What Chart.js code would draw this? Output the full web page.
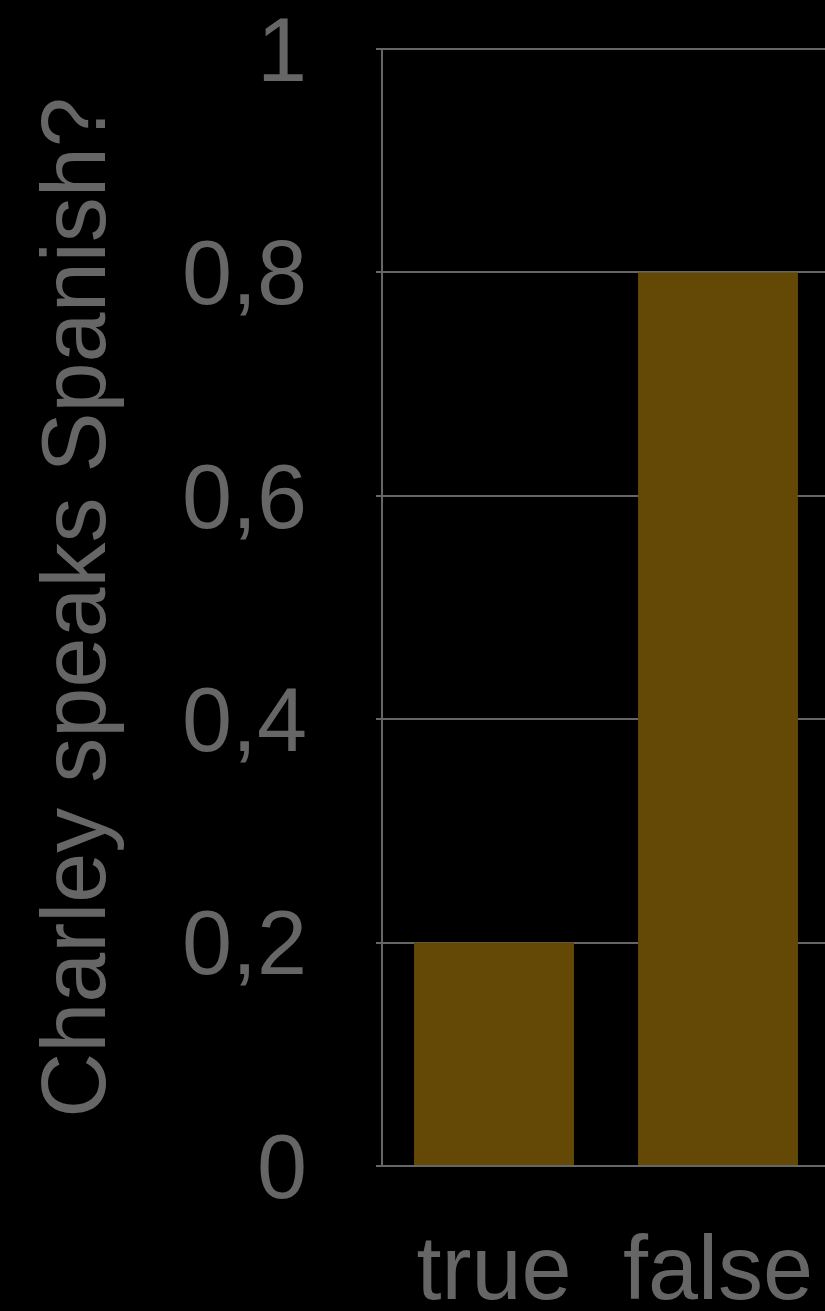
<!DOCTYPE html>
<html>
<head>
<meta charset="utf-8">
<script src="https://cdn.jsdelivr.net/npm/chart.js@4/dist/chart.umd.min.js"></script>
<style>
  html, body { margin:0; padding:0; background:#000; overflow:hidden; }
  #wrap { width:840px; height:1311px; }
</style>
</head>
<body>
<div id="wrap"><canvas id="chart" width="840" height="1311"></canvas></div>
<script>
// data
const categories = ['true', 'false'];
const values = [0.2, 0.8];
const yTicks = [0, 0.2, 0.4, 0.6, 0.8, 1];
const yTitle = 'Charley speaks Spanish?';

const GREY = '#666666';
const BAR = '#634806';
const FONT = "'Liberation Sans', Arial, Helvetica, sans-serif";

new Chart(document.getElementById('chart'), {
  type: 'bar',
  data: {
    labels: categories,
    datasets: [{ data: values, backgroundColor: BAR, borderWidth: 0,
                 barPercentage: 0.714, categoryPercentage: 1 }],
  },
  options: {
    responsive: false,
    animation: false,
    layout: { padding: { top: 49, right: 10, left: 0, bottom: 0 } },
    plugins: { legend: { display: false }, tooltip: { enabled: false } },
    scales: {
      x: {
        grid: { display: false, drawTicks: false },
        border: { display: false },
        ticks: { color: GREY, padding: 54, maxRotation: 0,
                 font: { family: FONT, size: 90 } },
        afterFit: s => { s.height = 145; s.paddingLeft = 0; s.paddingRight = 0; },
      },
      y: {
        min: 0, max: 1,
        afterBuildTicks: s => { s.ticks = yTicks.map(v => ({ value: v })); },
        grid: { color: GREY, lineWidth: 2, tickLength: 6, tickColor: GREY },
        border: { display: true, color: GREY, width: 2 },
        ticks: {
          color: GREY, padding: 69, labelOffset: 7,
          font: { family: FONT, size: 90, lineHeight: 1 },
          callback: v => String(Math.round(v * 10) / 10).replace('.', ','),
        },
        title: {
          display: true, text: yTitle, color: GREY,
          font: { family: FONT, size: 90, lineHeight: 1 },
          padding: { top: 35, bottom: 0 },
        },
        afterFit: s => { s.width = 382; s.paddingTop = 0; s.paddingBottom = 0; },
      },
    },
  },
});
</script>
</body>
</html>
